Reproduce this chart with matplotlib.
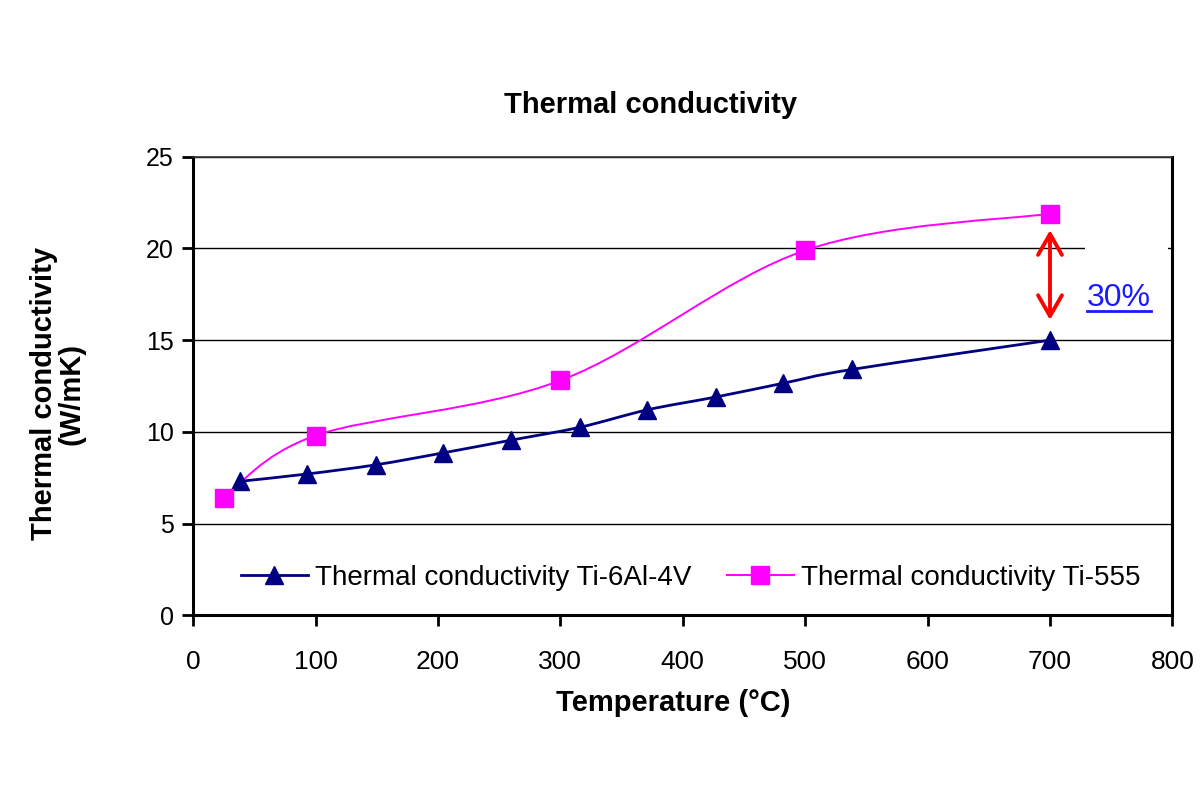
import matplotlib
matplotlib.use("Agg")
import matplotlib.pyplot as plt
import numpy as np
from matplotlib.path import Path
from matplotlib.patches import PathPatch, Rectangle
from matplotlib.lines import Line2D

plt.rcParams['font.family'] = ['Liberation Sans', 'DejaVu Sans']

# data (temperatures in degC)
t_ti64 = [38, 93, 149, 204, 260, 316, 371, 427, 482, 538, 700]
k_ti64 = [7.3, 7.7, 8.2, 8.85, 9.55, 10.25, 11.2, 11.9, 12.65, 13.4, 15.0]
t_ti555 = [25, 100, 300, 500, 700]
k_ti555 = [6.4, 9.8, 12.8, 19.9, 21.9]

label_ti64 = "Thermal conductivity Ti-6Al-4V"
label_ti555 = "Thermal conductivity Ti-555"
navy = "#000080"
magenta = "#ff00ff"


def smooth_path(x, y):
    # Excel style smoothed line: cubic bezier through every point
    p = np.column_stack([x, y]).astype(float)
    verts = [p[0]]
    codes = [Path.MOVETO]
    n = len(p)
    for i in range(n - 1):
        p0 = p[i - 1] if i > 0 else p[i]
        p1, p2 = p[i], p[i + 1]
        p3 = p[i + 2] if i + 2 < n else p[i + 1]
        verts += [p1 + (p2 - p0) / 6.0, p2 - (p3 - p1) / 6.0, p2]
        codes += [Path.CURVE4] * 3
    return Path(verts, codes)


fig = plt.figure(figsize=(12, 8), dpi=100)
ax = fig.add_axes([0.161, 0.231, 0.816, 0.573])

ax.set_axisbelow(True)
ax.yaxis.grid(True, color="black", linewidth=1.0)

ax.add_patch(PathPatch(smooth_path(t_ti64, k_ti64), fill=False, edgecolor=navy,
                       linewidth=2.0, zorder=2))
ax.add_patch(PathPatch(smooth_path(t_ti555, k_ti555), fill=False, edgecolor=magenta,
                       linewidth=1.4, zorder=2))
ax.plot(t_ti64, k_ti64, linestyle="none", marker="^", color=navy, markersize=13, zorder=3)
ax.plot(t_ti555, k_ti555, linestyle="none", marker="s", color=magenta, markersize=13, zorder=3)

# white text box hiding part of the 20 gridline
ax.add_patch(Rectangle((729, 19.5), 67, 1.0, facecolor="white", edgecolor="none", zorder=1))

ax.annotate("", xy=(700, 21.0), xytext=(700, 16.1),
            arrowprops=dict(arrowstyle="<->,head_length=0.75,head_width=0.43",
                            mutation_scale=20, color="red", linewidth=2.8,
                            shrinkA=0, shrinkB=0))
pct = ax.text(756, 17.3, "30%", color="#1a1aff", fontsize=23, ha="center", va="center")

ax.set_xlim(0, 800)
ax.set_ylim(0, 25)
ax.set_xticks(np.arange(0, 801, 100))
ax.set_yticks(np.arange(0, 26, 5))
ax.tick_params(axis="both", direction="out", length=8, width=2, labelsize=18, pad=6)
ax.tick_params(axis="x", pad=17, labelsize=19)
for side in ["left", "bottom", "right"]:
    ax.spines[side].set_linewidth(2.2)
ax.spines["top"].set_linewidth(1.2)
ax.spines["top"].set_color("#333333")

handles = [Line2D([], [], color=navy, linewidth=2.0, marker="^", markersize=13),
           Line2D([], [], color=magenta, linewidth=1.4, marker="s", markersize=13)]
ax.legend(handles, [label_ti64, label_ti555], loc="center", bbox_to_anchor=(0.508, 0.081),
          ncol=2, frameon=False, fontsize=20, handlelength=2.4, handletextpad=0.25,
          columnspacing=1.3)

fig.text(0.542, 0.869, "Thermal conductivity", fontsize=21, fontweight="bold",
         ha="center", va="center")
fig.text(0.561, 0.121, "Temperature (\u00b0C)", fontsize=21, fontweight="bold",
         ha="center", va="center")
fig.text(0.048, 0.508, "Thermal conductivity\n(W/mK)", fontsize=21, fontweight="bold",
         ha="center", va="center", rotation=90, linespacing=1.0)

# underline the 30% label
fig.canvas.draw()
bb = pct.get_window_extent().transformed(fig.transFigure.inverted())
fig.add_artist(Line2D([bb.x0, bb.x1], [bb.y0 + 0.002, bb.y0 + 0.002], color="#1a1aff",
                      linewidth=2.0, transform=fig.transFigure))

fig.savefig("out.png", dpi=100)
